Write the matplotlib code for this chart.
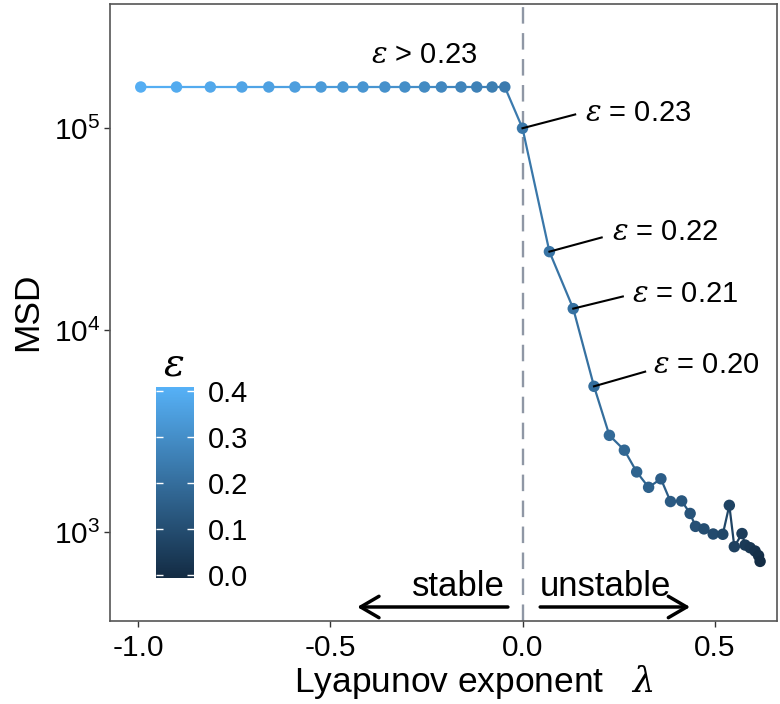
import numpy as np
import matplotlib
matplotlib.use('Agg')
import matplotlib.pyplot as plt
from matplotlib.collections import LineCollection
from matplotlib.colors import LinearSegmentedColormap, Normalize
from matplotlib.cm import ScalarMappable
from matplotlib.ticker import NullLocator, FixedLocator, FormatStrFormatter

plt.rcParams['font.family'] = 'Liberation Sans'
plt.rcParams['mathtext.fontset'] = 'custom'
plt.rcParams['mathtext.rm'] = 'Liberation Sans'
plt.rcParams['mathtext.it'] = 'DejaVu Serif:italic'
plt.rcParams['axes.unicode_minus'] = False

# epsilon (coupling) for each run, from 0.40 down to 0.00
eps = [0.40, 0.39, 0.38, 0.37, 0.36, 0.35, 0.34, 0.33, 0.32, 0.31, 0.30,
       0.29, 0.28, 0.27, 0.26, 0.25, 0.24, 0.23, 0.22, 0.21, 0.20,
       0.19, 0.18, 0.17, 0.16, 0.15, 0.14, 0.13, 0.12, 0.11, 0.10,
       0.09, 0.08, 0.07, 0.06, 0.05, 0.04, 0.03, 0.02, 0.01, 0.00]
# lyapunov exponent
lyap = [-0.993, -0.900, -0.812, -0.730, -0.660, -0.592, -0.524, -0.467, -0.415,
        -0.358, -0.306, -0.255, -0.211, -0.160, -0.119, -0.079, -0.046,
        0.000, 0.070, 0.132, 0.186,
        0.226, 0.265, 0.297, 0.328, 0.360, 0.385, 0.414, 0.436, 0.450, 0.472,
        0.496, 0.521, 0.538, 0.551, 0.571, 0.579, 0.592, 0.605, 0.614, 0.618]
msd = [1.6e5] * 17 + [
    1.0e5, 2.45e4, 1.28e4, 5.28e3,
    3020, 2550, 1990, 1670, 1840, 1420, 1430, 1240, 1070, 1040,
    981, 978, 1360, 849, 986, 865, 839, 808, 767, 718]

# labelled points: (eps text, index, end of leader line, text pos)
labels = [('0.23', 17, (0.137, 1.17e5), (0.163, 1.19e5)),
          ('0.22', 18, (0.206, 2.88e4), (0.233, 3.08e4)),
          ('0.21', 19, (0.261, 1.47e4), (0.284, 1.52e4)),
          ('0.20', 20, (0.319, 6.24e3), (0.340, 6.73e3))]

cmap = LinearSegmentedColormap.from_list('gg', ['#132B43', '#56B1F7'])
norm = Normalize(vmin=-0.006, vmax=0.409)

fig = plt.figure(figsize=(7.8, 7.04), dpi=100)
ax = fig.add_axes([110 / 780, 1 - 621 / 704, 667 / 780, 617 / 704])
ax.set_yscale('log')
ax.set_xlim(-1.073, 0.662)
ax.set_ylim(364, 4.12e5)

ax.axvline(0, color='#8F97A5', lw=1.7, ls=(0, (7, 4)), zorder=1)

segs = [[(lyap[i], msd[i]), (lyap[i + 1], msd[i + 1])] for i in range(len(lyap) - 1)]
lc = LineCollection(segs, colors=cmap(norm(np.array(eps[:-1]))), linewidths=1.6, zorder=2)
ax.add_collection(lc)
ax.scatter(lyap, msd, c=eps, cmap=cmap, norm=norm, s=68, linewidths=0, zorder=3)

for txt, i, end, tpos in labels:
    ax.plot([lyap[i], end[0]], [msd[i], end[1]], color='black', lw=1.5, zorder=4)
    ax.text(tpos[0], tpos[1], r'$\varepsilon$ = ' + txt, fontsize=21, ha='left', va='center')
ax.text(-0.395, 2.31e5, r'$\varepsilon$ > 0.23', fontsize=21, ha='left', va='center')

# stable / unstable arrows
arr = dict(arrowstyle='->,head_length=0.6,head_width=0.35', lw=2.5, color='black',
           shrinkA=0, shrinkB=0, mutation_scale=22)
ax.annotate('', xy=(-0.43, 427), xytext=(-0.038, 427), arrowprops=arr)
ax.annotate('', xy=(0.436, 427), xytext=(0.046, 427), arrowprops=arr)
ax.text(-0.045, 483, 'stable', fontsize=25, ha='right', va='baseline')
ax.text(0.046, 483, 'unstable', fontsize=25, ha='left', va='baseline')

ax.xaxis.set_major_locator(FixedLocator([-1.0, -0.5, 0.0, 0.5]))
ax.xaxis.set_major_formatter(FormatStrFormatter('%.1f'))
ax.yaxis.set_major_locator(FixedLocator([1e3, 1e4, 1e5]))
ax.yaxis.set_minor_locator(NullLocator())
ax.tick_params(axis='both', labelsize=21.5, length=4, width=1, color='#333333',
               labelcolor='black')
ax.tick_params(axis='x', pad=5)
ax.tick_params(axis='y', pad=3)
for s in ax.spines.values():
    s.set_color('#555555')
    s.set_linewidth(1.2)

fig.text(27.5 / 780, 1 - 312 / 704, 'MSD', rotation=90, fontsize=25.5, ha='center', va='center')
fig.text(474 / 780, 1 - 692 / 704, r'Lyapunov exponent   $\lambda$', fontsize=25.5,
         ha='center', va='baseline')

# colour bar
cax = fig.add_axes([156 / 780, 1 - 578 / 704, 38 / 780, 191 / 704])
cb = fig.colorbar(ScalarMappable(norm=norm, cmap=cmap), cax=cax)
cb.outline.set_visible(False)
cb.set_ticks([0.0, 0.1, 0.2, 0.3, 0.4])
cb.set_ticklabels(['0.0', '0.1', '0.2', '0.3', '0.4'])
cax.tick_params(direction='in', color='white', length=5, width=1, left=True, right=True,
                labelsize=21, pad=10)
fig.text(174 / 780, 1 - 365 / 704, r'$\varepsilon$', fontsize=28, ha='center', va='center')

fig.savefig('out.png', dpi=100)
